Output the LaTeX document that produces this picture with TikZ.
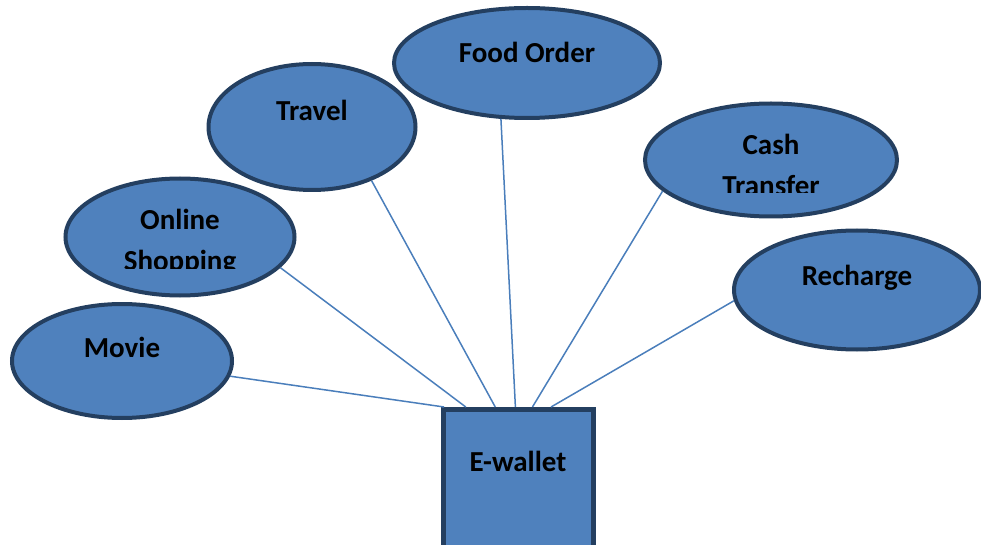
\documentclass[tikz,border=0pt]{standalone}
\usepackage{fontspec}
\setmainfont{Carlito}
\usetikzlibrary{shapes.geometric,calc}
\definecolor{ovalfill}{HTML}{4F81BD}
\definecolor{ovaldraw}{HTML}{243F60}
\definecolor{linkcol}{HTML}{4A7EBB}

\begin{document}
\begin{tikzpicture}[
    x=0.75pt, y=-0.75pt,
    font=\bfseries\fontsize{21.75}{30.75}\selectfont
  ]
\def\nw{0.75pt}

\tikzstyle{oval}=[ellipse,draw=ovaldraw,fill=ovalfill,line width=4*\nw,inner sep=0pt]
\tikzstyle{lbl}=[anchor=base,inner sep=0pt,align=center]
\tikzstyle{link}=[draw=linkcol,line width=1.5*\nw]

\clip (0,0) rectangle (981,545);

\node[oval,minimum width=266*\nw,minimum height=110*\nw] (food) at (527,63) {};
\node[oval,minimum width=207*\nw,minimum height=126*\nw] (travel) at (312,127) {};
\node[oval,minimum width=252*\nw,minimum height=113*\nw] (cash) at (771,160) {};
\node[oval,minimum width=229*\nw,minimum height=117*\nw] (online) at (180,237) {};
\node[oval,minimum width=246*\nw,minimum height=119*\nw] (recharge) at (857,290) {};
\node[oval,minimum width=220*\nw,minimum height=114*\nw] (movie) at (122,361) {};
\node[rectangle,draw=ovaldraw,fill=ovalfill,line width=5*\nw,minimum width=150*\nw,minimum height=160*\nw] (ewallet) at (518.5,489.5) {};

\node[lbl] (foodtxt) at (527,63) {Food Order};
\node[lbl] (traveltxt) at (312,121) {Travel};
\node[lbl] (rechargetxt) at (857,286) {Recharge};
\node[lbl] (movietxt) at (122,357) {Movie};
\node[lbl] (ewallettxt) at (518,471) {E-wallet};
% second lines are cut off as in the original
\begin{scope}
  \clip (0,0) rectangle (981,193);
  \node[lbl] (cashtxt) at (771,196) {Cash\\Transfer};
\end{scope}
\begin{scope}
  \clip (0,0) rectangle (981,269);
  \node[lbl] (onlinetxt) at (180,271) {Online\\Shopping};
\end{scope}

\coordinate (m1) at ($(ewallet.north west)!0.02!(ewallet.north east)$);
\coordinate (m2) at ($(ewallet.north west)!0.16!(ewallet.north east)$);
\coordinate (m3) at ($(ewallet.north west)!0.35!(ewallet.north east)$);
\coordinate (m4) at ($(ewallet.north west)!0.48!(ewallet.north east)$);
\coordinate (m5) at ($(ewallet.north west)!0.59!(ewallet.north east)$);
\coordinate (m6) at ($(ewallet.north west)!0.71!(ewallet.north east)$);

\draw[link] (movie.-8) -- (m1);
\draw[link] (online.-17) -- (m2);
\draw[link] (travel.-42) -- (m3);
\draw[link] (food.-115) -- (m4);
\draw[link] (cash.-164) -- (m5);
\draw[link] (recharge.-175) -- (m6);

\end{tikzpicture}
\end{document}
